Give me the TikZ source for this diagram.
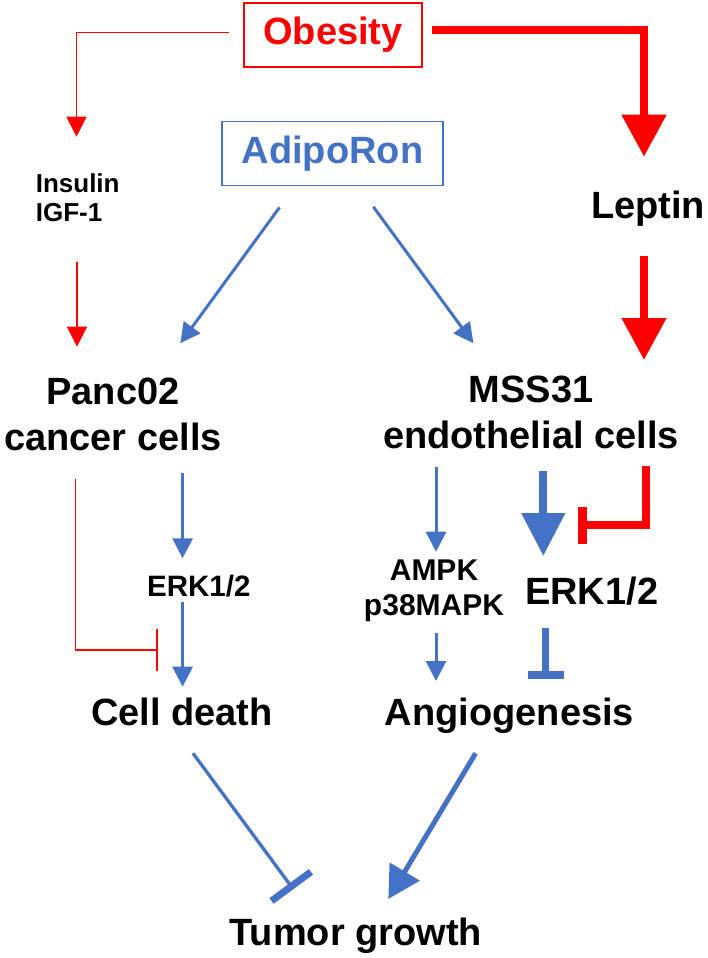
\documentclass[tikz,border=0pt]{standalone}
\usepackage{fontspec}
\setmainfont{Liberation Sans}
\usetikzlibrary{arrows.meta,calc}
\definecolor{obred}{RGB}{255,0,0}
\definecolor{adblue}{RGB}{68,114,196}
\begin{document}
\begin{tikzpicture}[x=1pt,y=1pt,
  lbl/.style={font=\fontsize{38}{46}\selectfont\bfseries, inner sep=0pt, anchor=base, align=center},
  boxlbl/.style={font=\fontsize{38}{46}\selectfont\bfseries, inner sep=0pt, draw, line width=1.5pt},
  thinred/.style={draw=obred, line width=1.5pt, -{Triangle[length=20pt,width=20pt]}},
  thickred/.style={draw=obred, line width=8pt, line join=miter, -{Triangle[length=42pt,width=43pt]}},
  thinblue/.style={draw=adblue, line width=3pt, -{Triangle[length=20pt,width=20pt]}},
  thickblue/.style={draw=adblue, line width=8pt, -{Triangle[length=43pt,width=42pt]}},
  midblue/.style={draw=adblue, line width=5pt, -{Triangle[length=32pt,width=34pt]}}
]
\useasboundingbox (0,0) rectangle (707,-958);

% boxes
\node[boxlbl, draw=obred, text=obred, minimum width=178pt, minimum height=64pt] (ob) at (333,-35) {Obesity};
\node[boxlbl, draw=adblue, text=adblue, minimum width=221pt, minimum height=63.6pt] (ad) at (332.5,-153.5) {AdipoRon};

% labels (base anchor of a multi-line node = baseline of its last line)
\node[lbl, font=\fontsize{26}{29.4}\selectfont\bfseries, align=left] (ins) at (77.7,-221.7) {Insulin\\IGF-1};
\node[lbl] (lep) at (648,-218.3) {Leptin};
\node[lbl] (panc) at (113,-450) {Panc02\\cancer cells};
\node[lbl] (mss) at (531,-448.3) {MSS31\\endothelial cells};
\node[lbl, font=\fontsize{29.5}{34}\selectfont\bfseries] (erkL) at (198.8,-596.7) {ERK1/2};
\node[lbl, font=\fontsize{30}{35}\selectfont\bfseries] (ampk) at (434,-615) {AMPK\\p38MAPK};
\node[lbl] (erkR) at (591.7,-604) {ERK1/2};
\node[lbl] (cd) at (182,-725) {Cell death};
\node[lbl] (ang) at (509.5,-725) {Angiogenesis};
\node[lbl] (tg) at (355.7,-945) {Tumor growth};

% red connectors
\draw[thinred] ($(ob.west)+(-14,2.3)$) -| ($(ins.base)+(-1.2,85)$);
\draw[thinred] ($(ins.base)+(-0.7,-40)$) -- ($(panc.base)+(-36,103.3)$);
\draw[thickred] ($(ob.east)+(9.7,4.5)$) -| ($(lep.base)+(-4,61.6)$);
\draw[thickred] ($(lep.base)+(-4,-37.7)$) -- ($(mss.base)+(113,88.3)$);
\draw[draw=obred, line width=1.5pt, -{Bar[width=42pt]}] ($(panc.base)+(-37.3,-29)$) |- ($(cd.base)+(-24.2,75)$);
\draw[draw=obred, line width=8pt, line join=miter, -{Bar[width=37pt,line width=9pt]}] ($(lep.base)+(-2,-247.7)$) |- ($(erkR.base)+(-13.7,78.7)$);

% blue connectors
\draw[thinblue] ($(ad.south)+(-53,-21.4)$) -- ($(panc.base)+(67.3,106.7)$);
\draw[thinblue] ($(ad.south)+(40.8,-20.7)$) -- ($(mss.base)+(-57.6,105)$);
\draw[thinblue] ($(panc.base)+(69.6,-23.3)$) -- ($(erkL.base)+(-16.2,38.4)$);
\draw[thinblue] ($(erkL.base)+(-16.2,-5)$) -- ($(cd.base)+(0.6,38.3)$);
\draw[thinblue] ($(mss.base)+(-95,-18.4)$) -- ($(ampk.base)+(2,63.3)$);
\draw[thickblue] ($(mss.base)+(12.3,-22.4)$) -- ($(erkR.base)+(-48.4,48)$);
\draw[thinblue] ($(ampk.base)+(2,-17.7)$) -- ($(ang.base)+(-73.5,44)$);
\draw[draw=adblue, line width=7pt, -{Bar[width=36pt,line width=8pt]}] ($(erkR.base)+(-46.2,-24.3)$) -- ($(ang.base)+(36,46)$);
\draw[draw=adblue, line width=3.3pt, -{Bar[width=49pt,line width=7pt]}] ($(cd.base)+(11,-28.3)$) -- ($(tg.base)+(-62.4,55.8)$);
\draw[midblue] ($(ang.base)+(-33.9,-28.3)$) -- ($(tg.base)+(32.6,46)$);
\end{tikzpicture}
\end{document}
